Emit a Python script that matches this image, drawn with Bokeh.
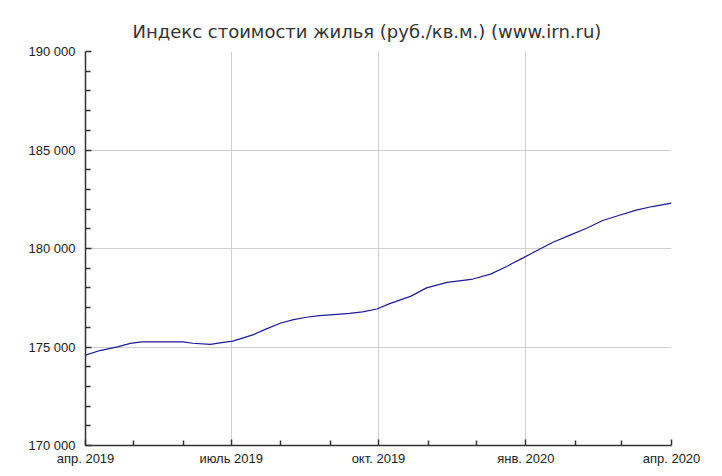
import pandas as pd
from bokeh.plotting import figure
from bokeh.models import Range1d, FixedTicker
from bokeh.embed import file_html
from bokeh.resources import INLINE

dates = ["2019-04-01", "2019-04-10", "2019-04-21", "2019-04-29", "2019-05-06",
         "2019-06-01", "2019-06-07", "2019-06-18", "2019-06-24", "2019-07-02",
         "2019-07-15", "2019-07-23", "2019-08-01", "2019-08-09", "2019-08-17",
         "2019-08-25", "2019-09-05", "2019-09-13", "2019-09-21", "2019-09-30",
         "2019-10-08", "2019-10-21", "2019-10-31", "2019-11-13", "2019-11-29",
         "2019-12-10", "2019-12-20", "2019-12-30", "2020-01-08", "2020-01-18",
         "2020-01-29", "2020-02-08", "2020-02-18", "2020-02-29", "2020-03-10",
         "2020-03-20", "2020-04-01"]
values = [174590, 174820, 175010, 175180, 175260,
          175260, 175190, 175130, 175210, 175300,
          175630, 175920, 176220, 176390, 176510,
          176590, 176660, 176710, 176780, 176930,
          177200, 177570, 178000, 178280, 178450,
          178700, 179090, 179510, 179900, 180320,
          180690, 181030, 181420, 181700, 181950,
          182130, 182300]

x_major_dates = ["2019-04-01", "2019-07-01", "2019-10-01", "2020-01-01", "2020-04-01"]
x_major_labels = ["апр. 2019", "июль 2019", "окт. 2019", "янв. 2020", "апр. 2020"]
x_minor_dates = ["2019-05-01", "2019-06-01", "2019-08-01", "2019-09-01", "2019-11-01",
                 "2019-12-01", "2020-02-01", "2020-03-01"]
y_major = [170000, 175000, 180000, 185000, 190000]
y_labels = ["170 000", "175 000", "180 000", "185 000", "190 000"]
y_minor = [v for v in range(170000, 190001, 1000) if v % 5000 != 0]

title_text = "Индекс стоимости жилья (руб./кв.м.) (www.irn.ru)"

def ms(d):
    return pd.Timestamp(d).value / 1e6

x = pd.to_datetime(dates)
xmaj = [ms(d) for d in x_major_dates]
xmin = [ms(d) for d in x_minor_dates]

p = figure(width=706, height=468, x_axis_type="datetime",
           output_backend="svg", toolbar_location=None,
           min_border_left=85, min_border_right=35,
           min_border_top=51, min_border_bottom=22)
p.x_range = Range1d(xmaj[0], xmaj[-1])
p.y_range = Range1d(170000, 190000)

p.title.text = title_text
p.title.align = "left"
p.title.offset = 47
p.title.text_font = "DejaVu Sans"
p.title.text_font_size = "18px"
p.title.text_font_style = "normal"
p.title.text_color = "#333333"
p.title.standoff = 19

p.outline_line_color = None
p.background_fill_color = "white"
p.border_fill_color = "white"

p.line(x, values, line_color="#1c1c96", line_width=1.2)

p.xaxis.ticker = FixedTicker(ticks=xmaj, minor_ticks=xmin)
p.xaxis.major_label_overrides = {t: l for t, l in zip(xmaj, x_major_labels)}
p.yaxis.ticker = FixedTicker(ticks=y_major, minor_ticks=y_minor)
p.yaxis.major_label_overrides = {t: l for t, l in zip(y_major, y_labels)}

for ax in (p.xaxis[0], p.yaxis[0]):
    ax.axis_line_color = "#333333"
    ax.axis_line_width = 1.5
    ax.major_tick_line_color = "#333333"
    ax.minor_tick_line_color = "#333333"
    ax.major_tick_line_width = 1.5
    ax.minor_tick_line_width = 1.5
    ax.major_tick_in = 6
    ax.major_tick_out = 0
    ax.minor_tick_in = 5
    ax.minor_tick_out = 0
    ax.major_label_text_font = "Liberation Sans"
    ax.major_label_text_font_size = "13px"
    ax.major_label_text_color = "#222222"

p.xaxis.major_label_standoff = 5
p.yaxis.major_label_standoff = 10

p.xgrid.ticker = FixedTicker(ticks=xmaj)
p.ygrid.ticker = FixedTicker(ticks=y_major)
p.grid.grid_line_color = "#cfcfcf"
p.grid.grid_line_width = 1

open("out.html", "w").write(file_html(p, INLINE))
